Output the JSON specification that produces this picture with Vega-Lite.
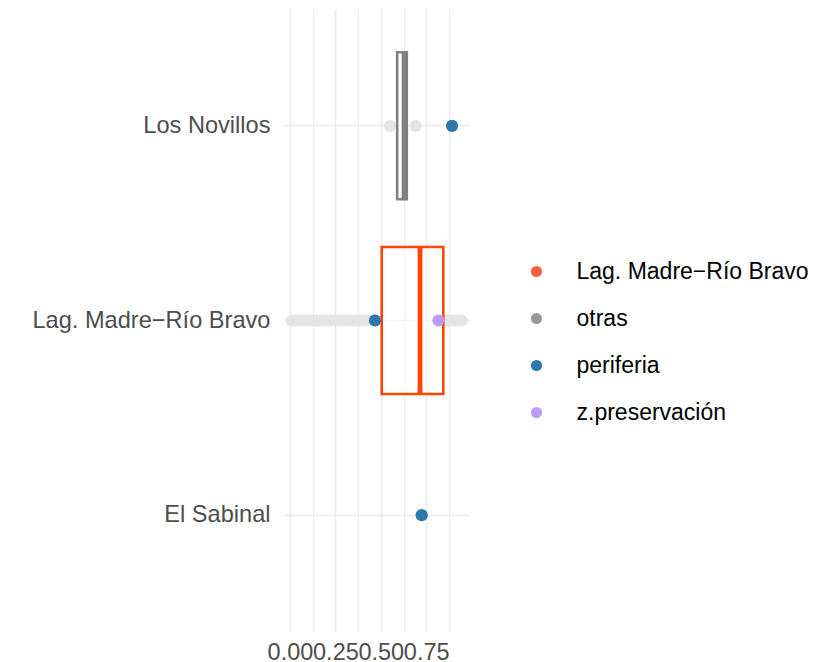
{
  "$schema": "https://vega.github.io/schema/vega-lite/v6.json",
  "autosize": {"type": "none"},
  "width": 186,
  "height": 623,
  "padding": {"left": 284, "top": 9, "right": 345, "bottom": 30},
  "background": "white",
  "config": {
    "font": "Liberation Sans",
    "view": {"stroke": null}
  },
  "datasets": {
    "otras": [
      {"zona": "Los Novillos", "valor": 0.551},
      {"zona": "Los Novillos", "valor": 0.692},
      {"zona": "Lag. Madre−Río Bravo", "valor": 0.01},
      {"zona": "Lag. Madre−Río Bravo", "valor": 0.03},
      {"zona": "Lag. Madre−Río Bravo", "valor": 0.05},
      {"zona": "Lag. Madre−Río Bravo", "valor": 0.07},
      {"zona": "Lag. Madre−Río Bravo", "valor": 0.09},
      {"zona": "Lag. Madre−Río Bravo", "valor": 0.11},
      {"zona": "Lag. Madre−Río Bravo", "valor": 0.13},
      {"zona": "Lag. Madre−Río Bravo", "valor": 0.15},
      {"zona": "Lag. Madre−Río Bravo", "valor": 0.17},
      {"zona": "Lag. Madre−Río Bravo", "valor": 0.19},
      {"zona": "Lag. Madre−Río Bravo", "valor": 0.21},
      {"zona": "Lag. Madre−Río Bravo", "valor": 0.23},
      {"zona": "Lag. Madre−Río Bravo", "valor": 0.25},
      {"zona": "Lag. Madre−Río Bravo", "valor": 0.27},
      {"zona": "Lag. Madre−Río Bravo", "valor": 0.29},
      {"zona": "Lag. Madre−Río Bravo", "valor": 0.31},
      {"zona": "Lag. Madre−Río Bravo", "valor": 0.33},
      {"zona": "Lag. Madre−Río Bravo", "valor": 0.35},
      {"zona": "Lag. Madre−Río Bravo", "valor": 0.37},
      {"zona": "Lag. Madre−Río Bravo", "valor": 0.39},
      {"zona": "Lag. Madre−Río Bravo", "valor": 0.41},
      {"zona": "Lag. Madre−Río Bravo", "valor": 0.43},
      {"zona": "Lag. Madre−Río Bravo", "valor": 0.45},
      {"zona": "Lag. Madre−Río Bravo", "valor": 0.47},
      {"zona": "Lag. Madre−Río Bravo", "valor": 0.83},
      {"zona": "Lag. Madre−Río Bravo", "valor": 0.85},
      {"zona": "Lag. Madre−Río Bravo", "valor": 0.87},
      {"zona": "Lag. Madre−Río Bravo", "valor": 0.89},
      {"zona": "Lag. Madre−Río Bravo", "valor": 0.91},
      {"zona": "Lag. Madre−Río Bravo", "valor": 0.93},
      {"zona": "Lag. Madre−Río Bravo", "valor": 0.945}
    ],
    "cajas": [
      {"zona": "Los Novillos", "q1": 0.59, "mediana": 0.628, "q3": 0.643},
      {"zona": "Lag. Madre−Río Bravo", "q1": 0.505, "mediana": 0.716, "q3": 0.844}
    ],
    "puntos": [
      {"zona": "Los Novillos", "valor": 0.892, "grupo": "periferia"},
      {"zona": "Lag. Madre−Río Bravo", "valor": 0.468, "grupo": "periferia"},
      {"zona": "Lag. Madre−Río Bravo", "valor": 0.817, "grupo": "z.preservación"},
      {"zona": "El Sabinal", "valor": 0.725, "grupo": "periferia"}
    ]
  },
  "resolve": {"axis": {"x": "independent"}},
  "encoding": {
    "y": {
      "field": "zona",
      "type": "nominal",
      "sort": ["Los Novillos", "Lag. Madre−Río Bravo", "El Sabinal"],
      "scale": {"type": "band", "paddingInner": 0, "paddingOuter": 0.1, "domain": ["Los Novillos", "Lag. Madre−Río Bravo", "El Sabinal"]},
      "axis": {
        "title": null,
        "bandPosition": 0.5,
        "ticks": false,
        "domain": false,
        "grid": true,
        "gridColor": "#EBEBEB",
        "gridWidth": 1.6,
        "labelFontSize": 23.6,
        "labelColor": "#4D4D4D",
        "labelPadding": 14,
        "labelLimit": 400,
        "labelFont": "Liberation Sans"
      }
    }
  },
  "layer": [
    {
      "data": {"name": "otras"},
      "mark": {"type": "point", "filled": true, "size": 150, "color": "#E4E4E4", "opacity": 1},
      "encoding": {
        "x": {
          "field": "valor",
          "type": "quantitative",
          "scale": {"domain": [-0.033, 0.991], "nice": false, "zero": false},
          "axis": {
            "title": null,
            "values": [0, 0.25, 0.5, 0.75],
            "format": ".2f",
            "labelOverlap": false,
            "labelFlush": false,
            "ticks": false,
            "domain": false,
            "grid": true,
            "gridColor": "#EBEBEB",
            "gridWidth": 1.6,
            "labelFontSize": 23.5,
            "labelColor": "#4D4D4D",
            "labelPadding": 8,
            "labelFont": "Liberation Sans"
          }
        }
      }
    },
    {
      "data": {"name": "cajas"},
      "mark": {"type": "bar", "fill": "white", "fillOpacity": 0.55, "strokeWidth": 2.6, "height": {"band": 0.755}},
      "encoding": {
        "x": {
          "field": "q1",
          "type": "quantitative",
          "axis": {
            "title": null,
            "values": [0.125, 0.375, 0.625, 0.875],
            "labels": false,
            "ticks": false,
            "domain": false,
            "grid": true,
            "gridColor": "#EBEBEB",
            "gridWidth": 1.2
          }
        },
        "x2": {"field": "q3"},
        "stroke": {
          "field": "zona",
          "type": "nominal",
          "scale": {"domain": ["Los Novillos", "Lag. Madre−Río Bravo"], "range": ["#808080", "#FF4500"]},
          "legend": null
        }
      }
    },
    {
      "data": {"name": "cajas"},
      "mark": {"type": "tick", "thickness": 4.8, "size": 147, "orient": "vertical", "opacity": 1},
      "encoding": {
        "x": {"field": "mediana", "type": "quantitative", "axis": null},
        "fill": {
          "field": "zona",
          "type": "nominal",
          "scale": {"domain": ["Los Novillos", "Lag. Madre−Río Bravo"], "range": ["#808080", "#FF4500"]},
          "legend": null
        }
      }
    },
    {
      "data": {"name": "puntos"},
      "mark": {"type": "point", "filled": true, "size": 150, "opacity": 1},
      "encoding": {
        "x": {"field": "valor", "type": "quantitative", "axis": null},
        "color": {
          "field": "grupo",
          "type": "nominal",
          "scale": {
            "domain": ["Lag. Madre−Río Bravo", "otras", "periferia", "z.preservación"],
            "range": ["#FF6040", "#999999", "#2E78AB", "#BB99FF"]
          },
          "legend": {
            "title": null,
            "orient": "none",
            "legendX": 241,
            "legendY": 251,
            "symbolType": "circle",
            "symbolSize": 125,
            "symbolOpacity": 1,
            "labelFontSize": 23,
            "labelColor": "#000000",
            "labelFont": "Liberation Sans",
            "labelOffset": 28.5,
            "rowPadding": 23,
            "labelLimit": 400
          }
        }
      }
    }
  ]
}
